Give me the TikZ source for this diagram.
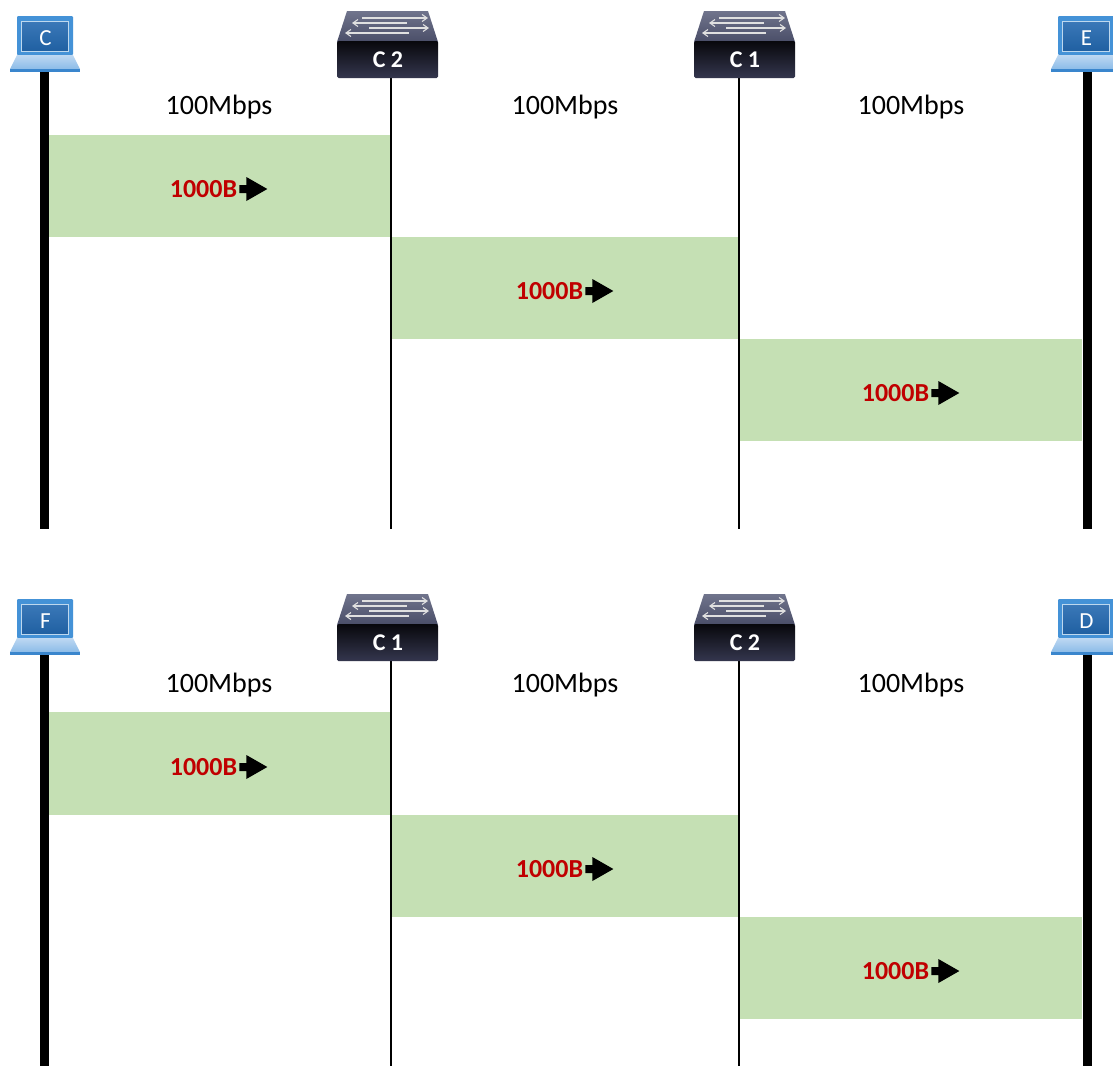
\documentclass[tikz,border=0pt]{standalone}
\usepackage{fontspec}
\setmainfont{Carlito}
\definecolor{band}{HTML}{C5E0B4}
\definecolor{payload}{HTML}{C00000}
\tikzset{
  x=1pt,y=-1pt,
  band/.style={fill=band,draw=none},
  rate/.style={inner sep=0pt,font=\fontsize{28}{32}\selectfont},
  payload/.style={inner sep=0pt,text=payload,font=\fontsize{26}{30}\selectfont\bfseries},
  host/.style={line width=9pt},
  switchline/.style={line width=1.6pt},
  hostlabel/.style={inner sep=0pt,text=white,font=\fontsize{23}{26}\selectfont},
  switchlabel/.style={inner sep=0pt,text=white,font=\fontsize{24}{26}\selectfont\bfseries},
  flowarrow/.style={fill=black,draw=none},
  switcharrow/.style={draw=white!88!black,line width=1.1pt,-{Straight Barb[length=5pt,width=7pt]}},
}
\usetikzlibrary{arrows.meta}
% \laptop{name}{x}{y}{label}: (x,y) is the upper left of the screen frame
\newcommand{\laptop}[4]{%
  \begin{scope}[shift={(#2,#3)}]
    \fill[top color=white!10!blue!40!cyan!60!black!85!white,bottom color=white!10!blue!40!cyan!60!black!85!white,fill=none] (0,0) rectangle (0,0);
    \fill[rounded corners=1pt,color={rgb,255:red,68;green,146;blue,215}] (0,0) rectangle (56,39);
    \shade[top color={rgb,255:red,58;green,120;blue,184},bottom color={rgb,255:red,32;green,96;blue,162},draw={rgb,255:red,190;green,216;blue,238},line width=1pt] (4.5,5.5) rectangle (51.5,35);
    \shade[top color={rgb,255:red,190;green,216;blue,242},bottom color={rgb,255:red,140;green,188;blue,232}] (0,39) -- (56,39) -- (63,53) -- (-7,53) -- cycle;
    \fill[color={rgb,255:red,58;green,134;blue,205}] (-7,52.5) -- (63,52.5) -- (63,56) -- (-7,56) -- cycle;
    \node[hostlabel] (#1) at (28.5,22) {#4};
  \end{scope}}
% \netswitch{name}{x}{y}{label}: (x,y) is the upper left of the switch's bounding box
\newcommand{\netswitch}[4]{%
  \begin{scope}[shift={(#2,#3)}]
    \shade[top color={rgb,255:red,112;green,116;blue,140},bottom color={rgb,255:red,74;green,78;blue,104}] (10,0) -- (91,0) -- (101,31) -- (0,31) -- cycle;
    \shade[top color={rgb,255:red,8;green,8;blue,12},middle color={rgb,255:red,8;green,8;blue,12},bottom color={rgb,255:red,52;green,54;blue,78},rounded corners=1.5pt] (0,30) -- (101,30) -- (101,67) -- (0,67) -- cycle;
    \draw[switcharrow] (25,7) -- (91,7)  ;
    \draw[switcharrow] (70,12) -- (15,12);
    \draw[switcharrow] (32,17) -- (92,17);
    \draw[switcharrow] (72,22) -- (8,22);
    \node[switchlabel] (#1) at (51,49) {#4};
  \end{scope}}
% \flowlabel{name}{x}{y}: (x,y) is the centre of the text; the arrow follows it
\newcommand{\flowlabel}[3]{%
  \node[payload] (#1) at (#2,#3) {1000B};
  \begin{scope}[shift={(#1.east)}]
    \fill[flowarrow] (2,-4) -- (9,-4) -- (9,-12) -- (30,0) -- (9,12) -- (9,4) -- (2,4) -- cycle;
  \end{scope}}
\begin{document}
\begin{tikzpicture}
\clip (0,0) rectangle (1113,1066);
\fill[white] (0,0) rectangle (1113,1066);

% ---- upper panel ----
\fill[band] (48,135) rectangle (390,237);
\fill[band] (391,237) rectangle (739,339);
\fill[band] (739,339) rectangle (1082,441);
\coordinate (aT) at (44,72);   \coordinate (aB) at (44,529);
\coordinate (bT) at (391,78);  \coordinate (bB) at (391,529);
\coordinate (cT) at (739,78);  \coordinate (cB) at (739,529);
\coordinate (dT) at (1087,72); \coordinate (dB) at (1087,529);
\draw[host] (aT) -- (aB);
\draw[switchline] (bT) -- (bB);
\draw[switchline] (cT) -- (cB);
\draw[host] (dT) -- (dB);
\laptop{hostC}{17}{16}{C}
\netswitch{swA}{337}{11}{C 2}
\netswitch{swB}{694}{11}{C 1}
\laptop{hostE}{1058}{16}{E}
\node[rate] (r1) at (219,107) {100Mbps};
\node[rate] (r2) at (565,107) {100Mbps};
\node[rate] (r3) at (911,107) {100Mbps};
\flowlabel{p1}{203.5}{189}
\flowlabel{p2}{549.5}{291}
\flowlabel{p3}{895.5}{393}

% ---- lower panel ----
\fill[band] (48,712) rectangle (390,815);
\fill[band] (391,815) rectangle (739,917);
\fill[band] (739,917) rectangle (1082,1019);
\coordinate (eT) at (44,655);   \coordinate (eB) at (44,1066);
\coordinate (fT) at (391,661);  \coordinate (fB) at (391,1066);
\coordinate (gT) at (739,661);  \coordinate (gB) at (739,1066);
\coordinate (hT) at (1087,655); \coordinate (hB) at (1087,1066);
\draw[host] (eT) -- (eB);
\draw[switchline] (fT) -- (fB);
\draw[switchline] (gT) -- (gB);
\draw[host] (hT) -- (hB);
\laptop{hostF}{17}{599}{F}
\netswitch{swC}{337}{594}{C 1}
\netswitch{swD}{694}{594}{C 2}
\laptop{hostD}{1058}{599}{D}
\node[rate] (r4) at (219,685) {100Mbps};
\node[rate] (r5) at (565,685) {100Mbps};
\node[rate] (r6) at (911,685) {100Mbps};
\flowlabel{p4}{203.5}{767}
\flowlabel{p5}{549.5}{869}
\flowlabel{p6}{895.5}{971}
\end{tikzpicture}
\end{document}
